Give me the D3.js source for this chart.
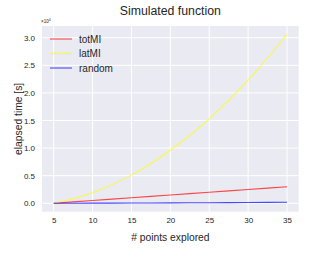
<!DOCTYPE html>
<html>
<head>
<meta charset="utf-8">
<script src="https://cdn.jsdelivr.net/npm/d3@7"></script>
<style>
  body { margin: 0; background: #fff; }
  text { font-family: "Liberation Sans", Arial, sans-serif; fill: #262626; }
</style>
</head>
<body>
<div id="chart"></div>
<script>
// values (y in units of 1e4 s)
const points = [5, 10, 15, 20, 25, 30, 35];
const totMI = [0, 0.05, 0.10, 0.15, 0.20, 0.25, 0.30];
const latMI = [0, 0.19, 0.51, 0.96, 1.53, 2.23, 3.06];
const randomRun = [0, 0.002, 0.004, 0.007, 0.010, 0.014, 0.018];
const xTicks = [5, 10, 15, 20, 25, 30, 35];
const yTicks = [0, 0.5, 1.0, 1.5, 2.0, 2.5, 3.0];

const series = [
  { name: "totMI", values: totMI, color: "#ff0000" },
  { name: "latMI", values: latMI, color: "#ffff00" },
  { name: "random", values: randomRun, color: "#0000ff" }
];

let dimensions = {
  width: 332,
  height: 259,
  margin: { top: 26, right: 33.3, bottom: 47.3, left: 42 }
};
dimensions.boundedWidth = dimensions.width - dimensions.margin.left - dimensions.margin.right;
dimensions.boundedHeight = dimensions.height - dimensions.margin.top - dimensions.margin.bottom;

const svg = d3.select("#chart").append("svg")
  .attr("width", dimensions.width)
  .attr("height", dimensions.height);

const g = svg.append("g")
  .attr("transform", `translate(${dimensions.margin.left},${dimensions.margin.top})`);

// matplotlib style 5% margins
let x = d3.scaleLinear().domain([3.5, 36.5]).range([0, dimensions.boundedWidth]);
let yMax = d3.max(latMI);
let y = d3.scaleLinear().domain([-0.05 * yMax, 1.05 * yMax]).range([dimensions.boundedHeight, 0]);

g.append("rect")
  .attr("width", dimensions.boundedWidth)
  .attr("height", dimensions.boundedHeight)
  .attr("fill", "#eaeaf2");

// grid
g.selectAll(".vgrid").data(xTicks).enter().append("line")
  .attr("x1", d => x(d)).attr("x2", d => x(d))
  .attr("y1", 0).attr("y2", dimensions.boundedHeight)
  .attr("stroke", "#fff").attr("stroke-width", 1);
g.selectAll(".hgrid").data(yTicks).enter().append("line")
  .attr("y1", d => y(d)).attr("y2", d => y(d))
  .attr("x1", 0).attr("x2", dimensions.boundedWidth)
  .attr("stroke", "#fff").attr("stroke-width", 1);

// axes (no domain line, no ticks, like seaborn darkgrid)
const xAxis = g.append("g")
  .attr("transform", `translate(0,${dimensions.boundedHeight})`)
  .call(d3.axisBottom(x).tickValues(xTicks).tickSize(0).tickPadding(6));
const yAxis = g.append("g")
  .call(d3.axisLeft(y).tickValues(yTicks).tickFormat(d3.format(".1f")).tickSize(0).tickPadding(7));
[xAxis, yAxis].forEach(a => {
  a.select(".domain").remove();
  a.selectAll("text").attr("font-size", 8).attr("fill", "#262626")
    .attr("font-family", "Liberation Sans, Arial, sans-serif");
});

// lines
let line = d3.line()
  .x((d, i) => x(points[i]))
  .y(d => y(d))
  .curve(d3.curveMonotoneX);

series.forEach(s => {
  g.append("path")
    .datum(s.values)
    .attr("d", line)
    .attr("fill", "none")
    .attr("stroke", s.color)
    .attr("stroke-opacity", 0.7)
    .attr("stroke-width", 1.1);
});

// legend
const legend = g.append("g").attr("transform", "translate(8,13)");
series.forEach((s, i) => {
  legend.append("line")
    .attr("x1", 0).attr("x2", 22)
    .attr("y1", i * 14.5).attr("y2", i * 14.5)
    .attr("stroke", s.color).attr("stroke-opacity", 0.7).attr("stroke-width", 1.1);
  legend.append("text")
    .attr("x", 29).attr("y", i * 14.5)
    .attr("dy", "0.35em")
    .attr("font-size", 10)
    .text(s.name);
});

// title, labels
svg.append("text")
  .attr("x", dimensions.margin.left + dimensions.boundedWidth / 2)
  .attr("y", 15)
  .attr("text-anchor", "middle")
  .attr("font-size", 12.3)
  .text("Simulated function");

svg.append("text")
  .attr("x", dimensions.margin.left + dimensions.boundedWidth / 2)
  .attr("y", 241)
  .attr("text-anchor", "middle")
  .attr("font-size", 10.3)
  .text("# points explored");

svg.append("text")
  .attr("transform", `translate(22,${dimensions.margin.top + dimensions.boundedHeight / 2}) rotate(-90)`)
  .attr("text-anchor", "middle")
  .attr("font-size", 10.3)
  .text("elapsed time [s]");

// offset label
const off = svg.append("text")
  .attr("x", 41)
  .attr("y", 23)
  .attr("font-size", 4.5)
  .attr("fill", "#555");
off.append("tspan").text("×10");
off.append("tspan").attr("dy", -2).attr("font-size", 3.5).text("4");
</script>
</body>
</html>
